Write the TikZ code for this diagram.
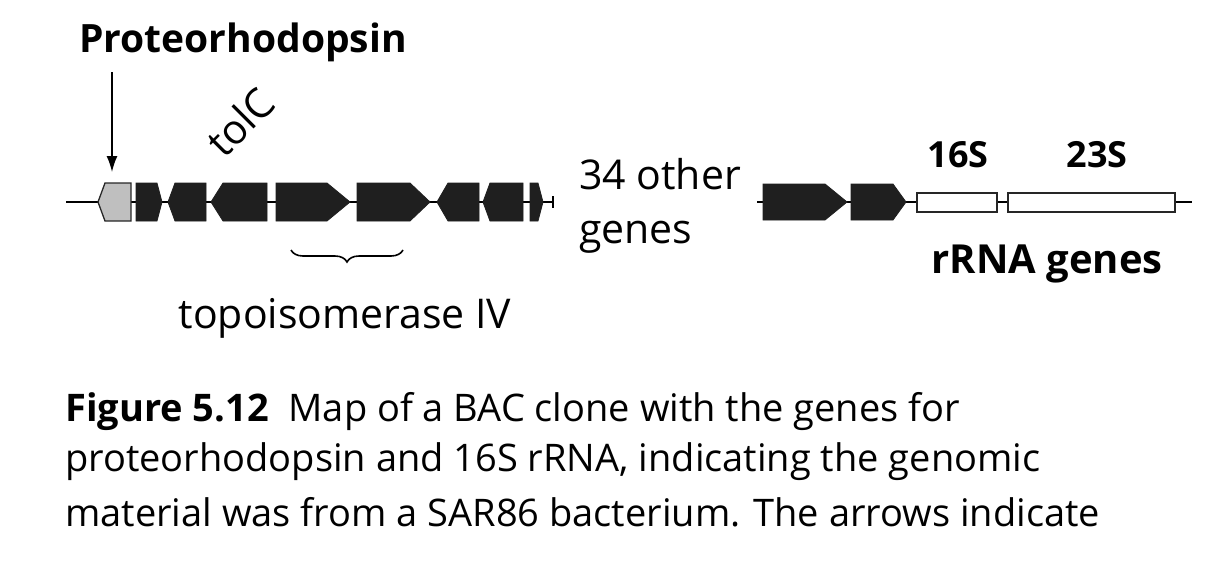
\documentclass[tikz,border=0pt]{standalone}
\usepackage{fontspec}
\setmainfont{Open Sans}
\usetikzlibrary{decorations.pathreplacing,arrows.meta}
\begin{document}
\begin{tikzpicture}[x=1pt,y=-1pt,
  gene/.style={fill=black!88,draw=black!88,line width=0.8pt},
  rr/.style={fill=white,draw=black!85,line width=1.5pt},
  lbl/.style={inner sep=0pt,font=\fontsize{41}{48}\selectfont}]
\useasboundingbox (0,0) rectangle (1210,562);
\draw[line width=1.3pt] (66,202) coordinate (l0) -- (553,202) coordinate (l1);
\draw[line width=1.3pt] (553,196) -- (553,208);
\draw[line width=1.3pt] (757,202) -- (1192,202);
% left genes
\def\L{183}\def\B{221}\def\M{202}
\draw[fill=black!25,draw=black!85,line width=1.3pt] (98,\M)--(105,\L)--(131,\L)--(131,\B)--(105,\B)--cycle;
\draw[gene] (136,\L)--(157,\L)--(162,\M)--(157,\B)--(136,\B)--cycle;
\draw[gene] (168,\M)--(175,\L)--(206,\L)--(206,\B)--(175,\B)--cycle;
\draw[gene] (211,\M)--(223,\L)--(267,\L)--(267,\B)--(223,\B)--cycle;
\draw[gene] (276,\L)--(327,\L)--(350,\M)--(327,\B)--(276,\B)--cycle;
\draw[gene] (357,\L)--(410,\L)--(430,\M)--(410,\B)--(357,\B)--cycle;
\draw[gene] (437,\M)--(448,\L)--(479,\L)--(479,\B)--(448,\B)--cycle;
\draw[gene] (483,\M)--(490,\L)--(523,\L)--(523,\B)--(490,\B)--cycle;
\draw[gene] (530,\L)--(538,\L)--(543,\M)--(538,\B)--(530,\B)--cycle;
% right genes
\draw[gene] (763,184)--(825,184)--(847,\M)--(825,220)--(763,220)--cycle;
\draw[gene] (851,184)--(893,184)--(906,\M)--(893,220)--(851,220)--cycle;
\draw[rr] (917,193) rectangle (997,212);
\draw[rr] (1008,193) rectangle (1175,212);
% labels
\node[lbl,font=\fontsize{39}{46}\selectfont\bfseries] (po) at (243,42) {Proteorhodopsin};
\coordinate (pt) at (112,172);
\draw[line width=1.5pt,-{Latex[length=16pt,width=11pt]}] (112,72) -- (pt);
\node[lbl,rotate=45] (tc) at (240,122) {tolC};
\node[lbl,align=left,anchor=north west,font=\fontsize{41}{54}\selectfont] (og) at (579,158) {34 other\\genes};
\node[lbl,font=\fontsize{36}{42}\selectfont\bfseries] (s16) at (958,155) {16S};
\node[lbl,font=\fontsize{36}{42}\selectfont\bfseries] (s23) at (1097,155) {23S};
\node[lbl,font=\fontsize{40}{46}\selectfont\bfseries] (rg) at (1047,264) {rRNA genes};
\draw[line width=1.6pt,decorate,decoration={brace,amplitude=12pt,mirror}] (291,250) -- (403,250);
\node[lbl] (tp) at (345,318) {topoisomerase IV};
\node[lbl,anchor=west,font=\fontsize{38}{50}\selectfont] (c1) at (65,412) {\textbf{Figure 5.12}\ \ Map of a BAC clone with the genes for};
\node[lbl,anchor=west,font=\fontsize{38}{50}\selectfont] (c2) at (65,462) {proteorhodopsin and 16S rRNA, indicating the genomic};
\node[lbl,anchor=west,font=\fontsize{38}{50}\selectfont] (c3) at (65,512) {material was from a SAR86 bacterium. The arrows indicate};
\end{tikzpicture}
\end{document}
